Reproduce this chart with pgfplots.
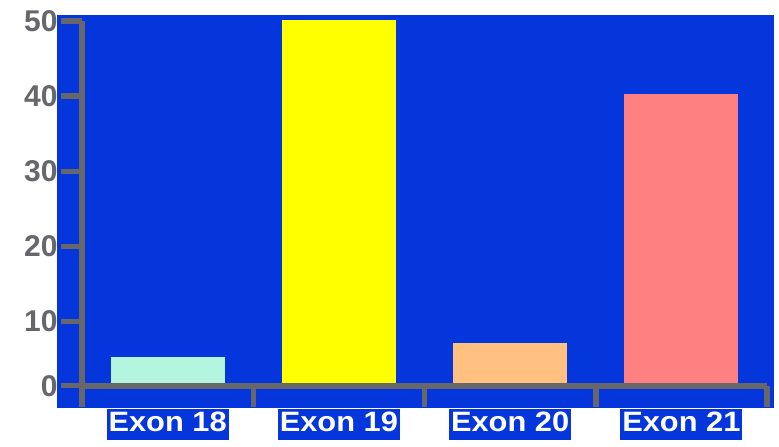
\documentclass[border=0pt]{standalone}
\usepackage{pgfplots}
\pgfplotsset{compat=1.18}
\usepackage{fontspec}
\setmainfont{Liberation Sans}
\newfontfamily\xlabfont[FakeStretch=1.1]{Liberation Sans}
\definecolor{bgblue}{RGB}{5,54,219}
\definecolor{axgray}{RGB}{102,102,107}
\definecolor{c18}{RGB}{180,245,224}
\definecolor{c19}{RGB}{255,255,0}
\definecolor{c20}{RGB}{255,192,128}
\definecolor{c21}{RGB}{255,128,128}
\begin{document}
\begin{tikzpicture}
\useasboundingbox (0,0) rectangle (779bp,447bp);
\fill[bgblue] (57.3bp,39bp) rectangle (774bp,432bp);
\begin{axis}[
  at={(82bp,61.3bp)}, anchor=south west,
  scale only axis, width=685bp, height=364.7bp,
  xmin=-0.5, xmax=3.5, ymin=0, ymax=50,
  y coord trafo/.code={\pgfmathparse{max(#1*0.853333,#1-1.466667)}},
  axis lines=left,
  axis on top,
  axis line style={-, line width=6bp, draw=axgray},
  tick style={line width=5.5bp, draw=axgray},
  tick align=outside,
  major tick length=21bp,
  xtick={-0.5,0.5,1.5,2.5,3.5}, xticklabels={,,,,},
  extra x ticks={0,1,2,3},
  extra x tick labels={Exon 18,Exon 19,Exon 20,Exon 21},
  extra x tick style={tick style={draw=none},
    xticklabel style={font=\xlabfont\bfseries\fontsize{28bp}{28bp}\selectfont,
      text=white, fill=bgblue, inner sep=0pt, inner xsep=2bp,
      text height=23bp, text depth=7.7bp, yshift=-2bp}},
  ytick={0,10,20,30,40,50}, yticklabels={0,10,20,30,40,50},
  yticklabel style={font=\bfseries\fontsize{30bp}{30bp}\selectfont, text=axgray},
]
\addplot[ybar, bar shift=0pt, bar width=0.666, fill=c18, draw=none] coordinates {(0,4.5)};
\addplot[ybar, bar shift=0pt, bar width=0.666, fill=c19, draw=none] coordinates {(1,50.1)};
\addplot[ybar, bar shift=0pt, bar width=0.666, fill=c20, draw=none] coordinates {(2,6.7)};
\addplot[ybar, bar shift=0pt, bar width=0.666, fill=c21, draw=none] coordinates {(3,40.3)};
\end{axis}
\end{tikzpicture}
\end{document}
